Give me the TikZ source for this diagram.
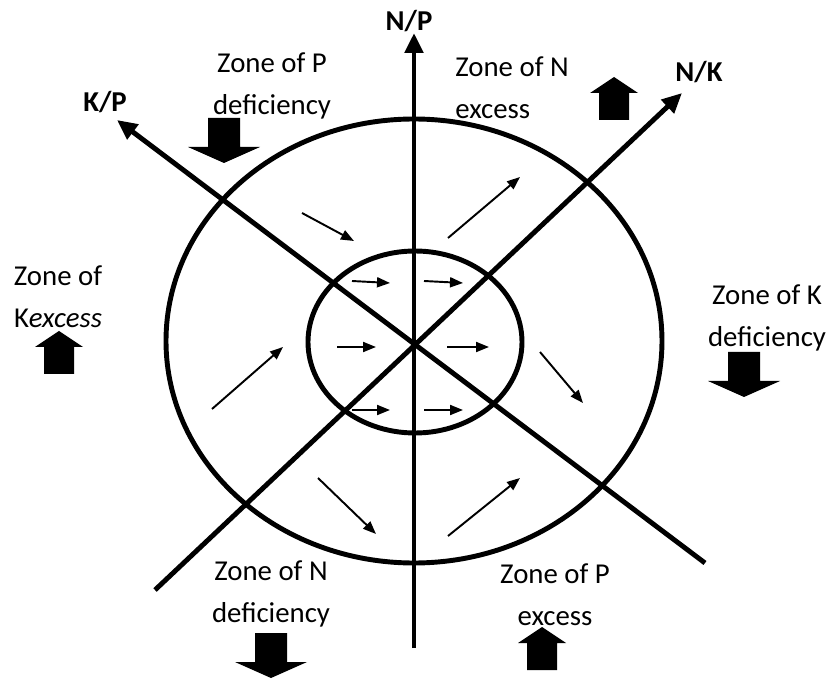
\documentclass[tikz,border=0pt]{standalone}
\usepackage{fontspec}
\setmainfont{Carlito}
\usetikzlibrary{arrows.meta}

\begin{document}
\begin{tikzpicture}[x=0.02cm,y=-0.02cm,
  axis/.style={line width=2.8pt,-{Triangle[length=0.4cm,width=0.36cm]}},
  ring/.style={line width=2.8pt},
  flow/.style={line width=1.1pt,-{Triangle[length=0.26cm,width=0.2cm]}},
  zone/.style={font=\fontsize{16.4}{23.8}\selectfont,align=center,inner sep=0pt},
  tag/.style={font=\fontsize{16.4}{20}\selectfont\bfseries,inner sep=0pt},
  upblock/.pic={\fill (0,0) -- (24,16) -- (15,16) -- (15,43) -- (-15,43) -- (-15,16) -- (-24,16) -- cycle;},
  downblock/.pic={\fill (-16,0) -- (16,0) -- (16,29) -- (36,29) -- (0,45) -- (-36,29) -- (-16,29) -- cycle;}]
  \useasboundingbox (0,0) rectangle (833,679);
  % zones
  \draw[ring] (414,341) ellipse [x radius=248, y radius=222];
  \draw[ring] (415,342) ellipse [x radius=107, y radius=91];
  % axes
  \coordinate (npBot) at (414,648);
  \coordinate (npTop) at (414,33);
  \coordinate (kpBot) at (705,563);
  \coordinate (kpTop) at (117,120);
  \coordinate (nkBot) at (155,590);
  \coordinate (nkTop) at (682,93);
  \draw[axis] (npBot) -- (npTop);
  \draw[axis] (kpBot) -- (kpTop);
  \draw[axis] (nkBot) -- (nkTop);
  \node[tag] (np) at (409,21) {N/P};
  \node[tag] (kp) at (105,102) {K/P};
  \node[tag] (nk) at (699,72) {N/K};
  % movement in the outer ring
  \draw[flow] (302,213) -- (354,241);
  \draw[flow] (448,238) -- (520,177);
  \draw[flow] (212,409) -- (283,347);
  \draw[flow] (540,352) -- (583,403);
  \draw[flow] (318,478) -- (376,534);
  \draw[flow] (448,536) -- (520,478);
  % movement in the inner circle
  \foreach \y/\ya in {281/283, 410/410}
    {\draw[flow] (352,\y) -- (390,\ya);
     \draw[flow] (424,\y) -- (463,\ya);}
  \draw[flow] (337,347) -- (376,347);
  \draw[flow] (447,347) -- (489,347);
  % zone labels
  \node[zone] (pdef) at (272,86) {Zone of P\\deficiency};
  \node[zone,align=left,anchor=west] (nexc) at (455,88) {Zone of N\\excess};
  \node[zone] (kexc) at (58,297) {Zone of\\K\textit{excess}};
  \node[zone] (kdef) at (767,318) {Zone of K\\deficiency};
  \node[zone] (ndef) at (271,594) {Zone of N\\deficiency};
  \node[zone] (pexc) at (555,595) {Zone of P\\excess};
  \pic at (224,118) {downblock};
  \pic at (744,352) {downblock};
  \pic at (271,633) {downblock};
  \pic at (614,77) {upblock};
  \pic at (59,331) {upblock};
  \pic at (542,627) {upblock};
\end{tikzpicture}
\end{document}
